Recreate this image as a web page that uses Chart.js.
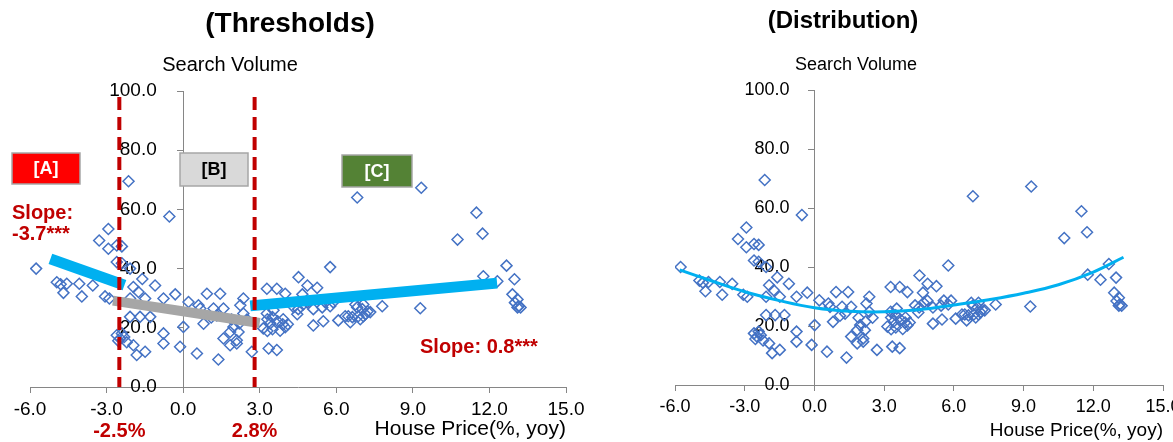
<!DOCTYPE html>
<html lang="en">
<head>
<meta charset="UTF-8">
<title>House Price vs Search Volume</title>
<script src="https://cdn.jsdelivr.net/npm/chart.js"></script>
<style>
    html, body { margin: 0; padding: 0; background: #fff; overflow: hidden; }
    body { width: 1173px; height: 442px; position: relative; }
    #left { position: absolute; left: 0; top: 0; }
    #right { position: absolute; left: 590px; top: 0; }
</style>
</head>
<body>
<canvas id="left" width="590" height="442"></canvas>
<canvas id="right" width="600" height="442"></canvas>
<script>
// scatter: house price (% yoy) vs search volume
const priceYoy = [
    -5.76, -4.95, -4.80, -4.56, -4.69, -4.07, -3.97, -3.54, -3.06, -2.89,
    -2.93, -3.29, -2.93, -2.60, -2.40, -2.60, -2.40, -2.08, -2.14, -0.54,
    -1.60, -1.95, -1.75, -1.10, -2.08, -1.49, -0.77, -0.31, 0.21, -2.08,
    -1.69, -1.29, 0.01, -0.77, -0.77, -0.12, 0.54, -2.60, -2.47, -2.31,
    -2.54, -2.21, -2.40, -1.95, -1.82, -1.49,
    0.93, 1.45, 2.36, 0.60, 0.67, 1.19, 1.58, 0.80, 1.10, 1.32,
    1.97, 2.24, 2.36, 1.84, 2.17, 1.90, 2.20, 2.50, 1.58, 2.10,
    2.10, 1.84, 1.38, 2.69, 3.35, 3.67,
    3.28, 3.67, 4.00, 4.52, 5.76, 4.87, 5.25, 3.28, 3.54, 4.33,
    3.30, 3.50, 3.70, 3.90, 3.92, 4.10, 4.00, 3.50, 3.30, 3.14,
    3.41, 3.80, 4.47, 4.51, 4.67, 4.70, 4.86, 5.10, 5.45, 5.57,
    5.76, 5.88, 5.10, 5.49, 6.08, 6.47, 6.55, 6.63, 6.35, 6.94,
    7.14, 6.82, 7.02, 7.06, 7.22, 6.86, 6.75, 7.06, 7.33, 7.80,
    9.29, 6.82, 9.33, 11.49, 11.73, 10.75, 12.67, 12.98, 12.31, 11.76,
    12.90, 13.10, 13.14, 13.10, 13.22, 13.00
];
const searchVolume = [
    40.0, 35.4, 34.7, 34.9, 31.8, 34.9, 30.6, 34.3, 30.6, 29.9,
    53.4, 49.5, 46.7, 47.8, 47.5, 42.2, 41.8, 40.0, 69.5, 57.6,
    36.5, 33.8, 32.1, 34.3, 29.9, 29.9, 29.9, 31.3, 28.7, 23.7,
    23.7, 23.7, 20.3, 18.1, 14.7, 13.6, 11.3, 17.5, 16.4, 16.9,
    15.6, 15.1, 18.1, 14.1, 10.8, 11.9,
    31.5, 31.5, 29.9, 27.6, 26.5, 26.5, 26.5, 21.4, 23.5, 24.2,
    20.3, 27.6, 24.8, 18.6, 18.6, 22.8, 21.5, 22.8, 16.4, 15.8,
    14.7, 14.1, 9.3, 11.9, 13.0, 12.5,
    33.2, 33.2, 31.5, 37.1, 40.5, 34.3, 33.5, 24.8, 25.9, 27.0,
    22.9, 23.6, 22.2, 21.2, 22.9, 21.2, 20.2, 19.5, 18.9, 19.8,
    21.5, 19.0, 24.6, 26.3, 31.3, 27.9, 28.6, 26.3, 26.9, 28.6,
    27.3, 28.6, 20.8, 22.2, 22.5, 23.9, 21.9, 23.6, 23.9, 22.9,
    24.6, 26.9, 26.3, 23.9, 25.5, 23.9, 27.9, 27.9, 25.3, 27.3,
    26.6, 64.0, 67.3, 58.9, 51.8, 49.8, 41.0, 36.4, 35.7, 37.4,
    31.3, 29.6, 27.3, 26.9, 26.9, 28.5
];

// threshold regression
const thresholds = [-2.5, 2.8];
const thresholdLabels = ['-2.5%', '2.8%'];
const segAx = [-5.2, -2.3];
const segAy = [43.3, 34.4];
const segBx = [-2.75, 3.0];
const segBy = [29.2, 21.6];
const segCx = [2.63, 12.3];
const segCy = [27.4, 35.1];

// quadratic fit
const fitX = [-5.8, -4.5, -3.0, -1.5, 0.0, 1.5, 3.0, 4.5, 6.0, 7.5, 9.0, 10.5, 12.0, 13.3];
const fitY = [39.0, 35.5, 31.6, 28.6, 26.2, 25.0, 24.8, 25.5, 27.1, 28.9, 31.1, 34.0, 38.3, 43.3];

const xTicks = { min: -6, max: 15, step: 3 };
const yTicks = { min: 0, max: 100, step: 20 };

Chart.defaults.font.family = '"Liberation Sans", Arial, sans-serif';
const axisGrey = '#868686';
const fontFam = '"Liberation Sans", Arial, sans-serif';

const toXY = (xs, ys) => xs.map((x, i) => ({ x: x, y: ys[i] }));
const points = toXY(priceYoy, searchVolume);

function scatterSet(order) {
    return {
        data: points,
        pointStyle: 'rectRot',
        pointRadius: 5.5,
        borderColor: '#4472C4',
        backgroundColor: 'rgba(0,0,0,0)',
        pointBorderWidth: 1.5,
        showLine: false,
        order: order
    };
}

function lineSet(data, color, width, order, extra) {
    return Object.assign({
        data: data,
        showLine: true,
        borderColor: color,
        borderWidth: width,
        pointRadius: 0,
        fill: false,
        order: order
    }, extra || {});
}

// y axis sits at x = 0, where chart.js ignores ticks.padding,
// so the gap to the axis comes from trailing spaces
function makeScales(tickSize, titleSize, gap, axisHeight) {
    return {
        x: {
            type: 'linear',
            min: xTicks.min,
            max: xTicks.max,
            ticks: {
                stepSize: xTicks.step,
                autoSkip: false,
                maxRotation: 0,
                color: '#000',
                padding: 5,
                font: { size: tickSize },
                callback: v => v.toFixed(1)
            },
            grid: { drawOnChartArea: false, color: axisGrey, tickLength: 6 },
            border: { color: axisGrey },
            title: {
                display: true,
                text: 'House Price(%, yoy)',
                align: 'end',
                color: '#000',
                font: { size: titleSize },
                padding: 0
            },
            afterFit: s => { s.height = axisHeight; }
        },
        y: {
            type: 'linear',
            min: yTicks.min,
            max: yTicks.max,
            position: { x: 0 },
            z: 1,
            ticks: {
                stepSize: yTicks.step,
                color: '#000',
                font: { size: tickSize },
                callback: v => v.toFixed(1) + ' '.repeat(gap)
            },
            grid: { drawOnChartArea: false, color: axisGrey, tickLength: 6 },
            border: { color: axisGrey }
        }
    };
}

function noteBox(ctx, x, y, w, h, fill, textColor, text) {
    ctx.fillStyle = fill;
    ctx.fillRect(x, y, w, h);
    ctx.strokeStyle = '#A6A6A6';
    ctx.lineWidth = 1.5;
    ctx.strokeRect(x, y, w, h);
    ctx.fillStyle = textColor;
    ctx.font = 'bold 18px ' + fontFam;
    ctx.textAlign = 'center';
    ctx.textBaseline = 'middle';
    ctx.fillText(text, x + w / 2, y + h / 2 + 1);
}

const leftNotes = {
    id: 'leftNotes',
    afterDraw(chart) {
        const ctx = chart.ctx;
        const xs = chart.scales.x;
        ctx.save();
        ctx.textAlign = 'center';
        ctx.textBaseline = 'middle';
        ctx.fillStyle = '#000';
        ctx.font = 'bold 28px ' + fontFam;
        ctx.fillText('(Thresholds)', 290, 24);
        ctx.font = '20px ' + fontFam;
        ctx.fillText('Search Volume', 230, 65);

        noteBox(ctx, 12, 153, 68, 31, '#FF0000', '#fff', '[A]');
        noteBox(ctx, 180, 153, 68, 33, '#D9D9D9', '#000', '[B]');
        noteBox(ctx, 342, 155, 70, 32, '#548235', '#fff', '[C]');

        ctx.fillStyle = '#C00000';
        ctx.font = 'bold 20px ' + fontFam;
        ctx.textAlign = 'left';
        ctx.fillText('Slope:', 12, 213);
        ctx.fillText('-3.7***', 12, 234);
        ctx.fillText('Slope: 0.8***', 420, 347);
        ctx.textAlign = 'center';
        thresholds.forEach((t, i) => {
            ctx.fillText(thresholdLabels[i], xs.getPixelForValue(t), 431);
        });
        ctx.restore();
    }
};

const rightNotes = {
    id: 'rightNotes',
    afterDraw(chart) {
        const ctx = chart.ctx;
        ctx.save();
        ctx.textAlign = 'center';
        ctx.textBaseline = 'middle';
        ctx.fillStyle = '#000';
        ctx.font = 'bold 24px ' + fontFam;
        ctx.fillText('(Distribution)', 253, 21);
        ctx.font = '18px ' + fontFam;
        ctx.fillText('Search Volume', 266, 65);
        ctx.restore();
    }
};

const common = {
    responsive: false,
    animation: false,
    events: [],
    plugins: { legend: { display: false }, tooltip: { enabled: false } }
};

const thresholdSets = thresholds.map(t => lineSet(
    [{ x: t, y: 98 }, { x: t, y: 0 }], '#C00000', 4, 0, { borderDash: [13, 7] }));

new Chart(document.getElementById('left'), {
    type: 'scatter',
    data: {
        datasets: thresholdSets.concat([
            lineSet(toXY(segAx, segAy), '#00B0F0', 11, 1),
            lineSet(toXY(segBx, segBy), '#A6A6A6', 10, 1),
            lineSet(toXY(segCx, segCy), '#00B0F0', 11, 1),
            scatterSet(2)
        ])
    },
    options: Object.assign({}, common, {
        layout: { padding: { left: 30, right: 24, top: 91, bottom: 0 } },
        scales: makeScales(19, 21, 5, 55)
    }),
    plugins: [leftNotes]
});

new Chart(document.getElementById('right'), {
    type: 'scatter',
    data: {
        datasets: [
            lineSet(toXY(fitX, fitY), '#00B0F0', 3, 0, { tension: 0.4 }),
            scatterSet(1)
        ]
    },
    options: Object.assign({}, common, {
        layout: { padding: { left: 85, right: 27, top: 90, bottom: 0 } },
        scales: makeScales(18, 19, 5, 57)
    }),
    plugins: [rightNotes]
});
</script>
</body>
</html>
